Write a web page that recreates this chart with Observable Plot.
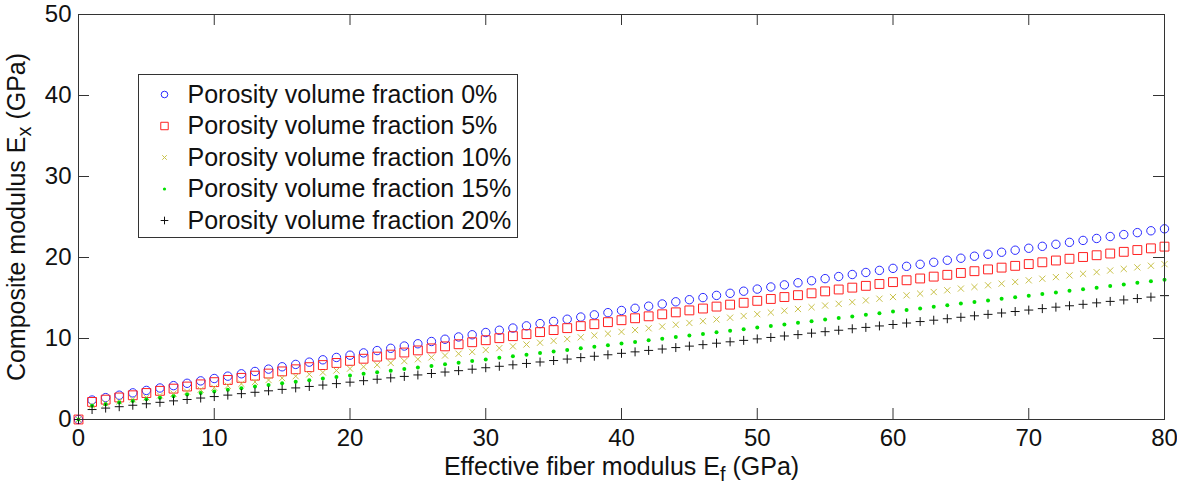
<!DOCTYPE html>
<html>
<head>
<meta charset="utf-8">
<script src="https://cdn.jsdelivr.net/npm/d3@7"></script>
<script src="https://cdn.jsdelivr.net/npm/@observablehq/plot@0.6"></script>
<style>
  html, body { margin: 0; padding: 0; background: #ffffff; }
  #chart { width: 1177px; height: 483px; }
</style>
</head>
<body>
<div id="chart"></div>
<script>
// ---- Data ----
const efValues = [0,1,2,3,4,5,6,7,8,9,10,11,12,13,14,15,16,17,18,19,20,21,22,23,24,25,26,27,28,29,30,31,32,33,34,35,36,37,38,39,40,41,42,43,44,45,46,47,48,49,50,51,52,53,54,55,56,57,58,59,60,61,62,63,64,65,66,67,68,69,70,71,72,73,74,75,76,77,78,79,80];

const seriesNames = [
  "Porosity volume fraction 0%",
  "Porosity volume fraction 5%",
  "Porosity volume fraction 10%",
  "Porosity volume fraction 15%",
  "Porosity volume fraction 20%"
];

const ex0 = [0, 2.40,2.70,3.00,3.29,3.59,3.89,4.18,4.47,4.77,5.06, 5.35,5.64,5.93,6.22,6.51,6.80,7.08,7.37,7.66,7.94, 8.22,8.51,8.79,9.07,9.35,9.63,9.91,10.19,10.46,10.74, 11.02,11.29,11.56,11.84,12.11,12.38,12.65,12.92,13.19,13.46, 13.73,13.99,14.26,14.53,14.79,15.05,15.32,15.58,15.84,16.10, 16.36,16.62,16.88,17.13,17.39,17.65,17.90,18.15,18.41,18.66, 18.91,19.16,19.41,19.66,19.91,20.16,20.40,20.65,20.90,21.14, 21.38,21.63,21.87,22.11,22.35,22.59,22.83,23.07,23.30,23.54];
const ex5 = [0, 2.17,2.45,2.72,2.99,3.27,3.54,3.81,4.07,4.34,4.61, 4.88,5.14,5.41,5.67,5.94,6.20,6.46,6.72,6.98,7.24, 7.50,7.76,8.01,8.27,8.53,8.78,9.03,9.29,9.54,9.79, 10.04,10.29,10.54,10.79,11.04,11.28,11.53,11.77,12.02,12.26, 12.50,12.74,12.99,13.23,13.47,13.70,13.94,14.18,14.41,14.65, 14.88,15.12,15.35,15.58,15.82,16.05,16.28,16.50,16.73,16.96, 17.19,17.41,17.64,17.86,18.09,18.31,18.53,18.75,18.97,19.19, 19.41,19.63,19.84,20.06,20.28,20.49,20.70,20.92,21.13,21.34];
const ex10 = [0, 1.74,1.99,2.23,2.48,2.72,2.96,3.20,3.44,3.68,3.92, 4.16,4.40,4.63,4.87,5.11,5.34,5.58,5.81,6.05,6.28, 6.51,6.74,6.98,7.21,7.44,7.67,7.90,8.12,8.35,8.58, 8.81,9.03,9.26,9.48,9.71,9.93,10.15,10.38,10.60,10.82, 11.04,11.26,11.48,11.70,11.92,12.14,12.35,12.57,12.78,13.00, 13.21,13.43,13.64,13.86,14.07,14.28,14.49,14.70,14.91,15.12, 15.33,15.54,15.74,15.95,16.16,16.36,16.57,16.77,16.98,17.18, 17.38,17.58,17.79,17.99,18.19,18.39,18.59,18.78,18.98,19.18];
const ex15 = [0, 1.70,1.89,2.09,2.29,2.49,2.68,2.88,3.08,3.27,3.47, 3.67,3.86,4.06,4.26,4.46,4.65,4.85,5.05,5.24,5.44, 5.64,5.83,6.03,6.23,6.43,6.62,6.82,7.02,7.21,7.41, 7.61,7.80,8.00,8.20,8.40,8.59,8.79,8.99,9.18,9.38, 9.58,9.77,9.97,10.17,10.37,10.56,10.76,10.96,11.15,11.35, 11.55,11.74,11.94,12.14,12.34,12.53,12.73,12.93,13.12,13.32, 13.52,13.71,13.91,14.11,14.31,14.50,14.70,14.90,15.09,15.29, 15.49,15.68,15.88,16.08,16.28,16.47,16.67,16.87,17.06,17.26];
const ex20 = [0, 1.23,1.41,1.58,1.76,1.94,2.12,2.30,2.47,2.65,2.83, 3.01,3.19,3.36,3.54,3.72,3.90,4.08,4.25,4.43,4.61, 4.79,4.97,5.14,5.32,5.50,5.68,5.86,6.03,6.21,6.39, 6.57,6.75,6.92,7.10,7.28,7.46,7.64,7.81,7.99,8.17, 8.35,8.53,8.70,8.88,9.06,9.24,9.42,9.59,9.77,9.95, 10.13,10.31,10.48,10.66,10.84,11.02,11.20,11.37,11.55,11.73, 11.91,12.09,12.26,12.44,12.62,12.80,12.98,13.15,13.33,13.51, 13.69,13.87,14.04,14.22,14.40,14.58,14.76,14.93,15.11,15.29];

const xTicks = [0, 10, 20, 30, 40, 50, 60, 70, 80];
const yTicks = [0, 10, 20, 30, 40, 50];
const xLabel = "Effective fiber modulus E_f (GPa)";
const yLabel = "Composite modulus E_x (GPa)";

// ---- Styles per series ----
const seriesValues = [ex0, ex5, ex10, ex15, ex20];
const styles = [
  {symbol: "circle", stroke: "#2a2aff", fill: "none", r: 4.2, lr: 3.3, sw: 1},
  {symbol: "square", stroke: "#ff2020", fill: "none", r: 5.0, lr: 4.2, sw: 1},
  {symbol: "times",  stroke: "#c9c24a", fill: "none", r: 2.9, lr: 2.2, sw: 1},
  {symbol: "circle", stroke: "none",    fill: "#00e000", r: 2.0, lr: 1.6, sw: 0},
  {symbol: "plus",   stroke: "#111111", fill: "none", r: 3.0, lr: 2.6, sw: 1}
];

const W = 1177, H = 483;
const mL = 78, mR = 13, mT = 14, mB = 64;
const fw = W - mL - mR, fh = H - mT - mB;
const tickLen = 11;
const FONT = "'Liberation Sans', Arial, Helvetica, sans-serif";

const marks = [];

// data series
seriesValues.forEach((vals, i) => {
  const s = styles[i];
  const rows = efValues.map((ef, j) => ({ef, ex: vals[j], series: seriesNames[i]}));
  marks.push(Plot.dot(rows, {
    x: "ef", y: "ex", symbol: s.symbol, r: s.r,
    stroke: s.stroke, fill: s.fill, strokeWidth: s.sw
  }));
});

// inward ticks (MATLAB style, box on)
marks.push(Plot.tickX(xTicks, {x: d => d, insetTop: fh - tickLen, stroke: "#333"}));
marks.push(Plot.tickX(xTicks, {x: d => d, insetBottom: fh - tickLen, stroke: "#333"}));
marks.push(Plot.tickY(yTicks, {y: d => d, insetRight: fw - tickLen, stroke: "#333"}));
marks.push(Plot.tickY(yTicks, {y: d => d, insetLeft: fw - tickLen, stroke: "#333"}));

// axes tick labels
marks.push(Plot.axisX({ticks: xTicks, tickSize: 0, tickPadding: 9, label: null, tickFormat: d => String(d)}));
marks.push(Plot.axisY({ticks: yTicks, tickSize: 0, tickPadding: 7, label: null, tickFormat: d => String(d)}));

// axis titles
marks.push(Plot.text([xLabel], {frameAnchor: "bottom", dy: 47, lineAnchor: "middle", textAnchor: "middle", text: d => d, fill: "#111", fontSize: 25}));
marks.push(Plot.text([yLabel], {frameAnchor: "left", dx: -62, rotate: -90, lineAnchor: "middle", textAnchor: "middle", text: d => d, fill: "#111", fontSize: 25}));

// legend box
marks.push(Plot.frame({insetLeft: 60, insetTop: 60, insetRight: 647, insetBottom: 182, fill: "white", stroke: "#333"}));
seriesNames.forEach((name, i) => {
  const s = styles[i];
  const dy = 80 + i * 31.5;
  marks.push(Plot.dot([name], {frameAnchor: "top-left", dx: 86, dy, symbol: s.symbol, r: s.lr,
    stroke: s.stroke, fill: s.fill, strokeWidth: s.sw}));
  marks.push(Plot.text([name], {frameAnchor: "top-left", dx: 109, dy, text: d => d,
    textAnchor: "start", lineAnchor: "middle", fill: "#111", fontSize: 25}));
});

// frame (box)
marks.push(Plot.frame({stroke: "#333"}));

const chart = Plot.plot({
  width: W, height: H,
  marginLeft: mL, marginRight: mR, marginTop: mT, marginBottom: mB,
  x: {domain: [0, 80]},
  y: {domain: [0, 50]},
  style: {fontSize: "24px", fontFamily: FONT, color: "#111", background: "white"},
  marks
});

document.getElementById("chart").appendChild(chart);

// turn "_x" into real subscripts
d3.select(chart).selectAll("text").each(function() {
  const t = this.textContent;
  const m = /^(.*?)_(\w)(.*)$/.exec(t);
  if (!m) return;
  const sel = d3.select(this);
  while (this.firstChild) this.removeChild(this.firstChild);
  sel.attr("text-anchor", "middle");
  sel.append("tspan").text(m[1]);
  sel.append("tspan").attr("dy", "0.3em").attr("font-size", "0.8em").text(m[2]);
  sel.append("tspan").attr("dy", "-0.24em").text(m[3]);
});
</script>
</body>
</html>
